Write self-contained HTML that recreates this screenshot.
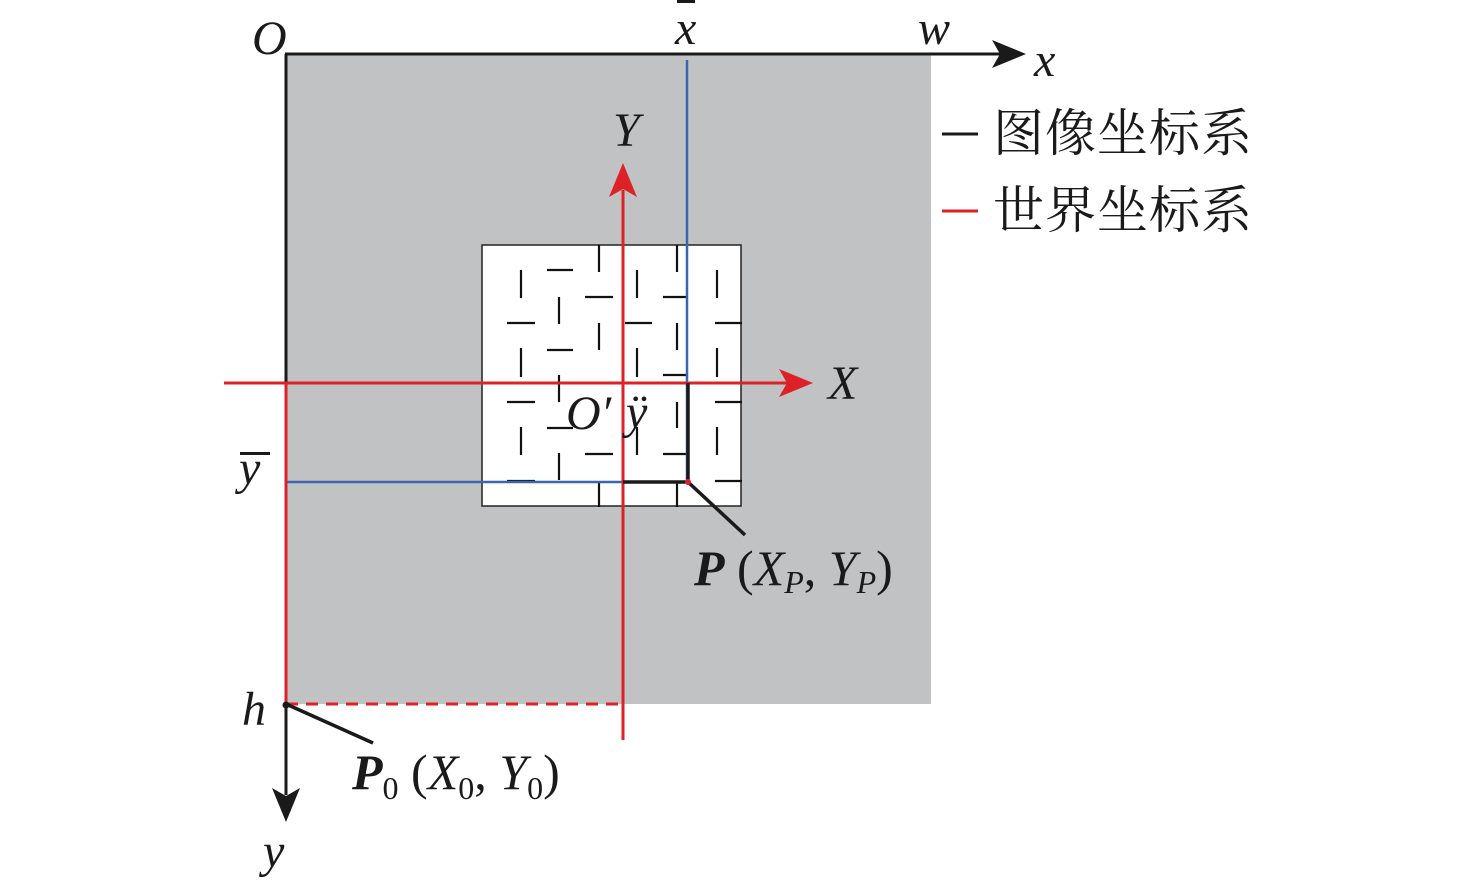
<!DOCTYPE html>
<html><head><meta charset="utf-8"><style>
html,body{margin:0;padding:0;background:#fff;}
svg{display:block;}
text{font-family:"Liberation Serif","Noto Serif CJK SC",serif;}
.i{font-style:italic;}
</style></head><body>
<svg width="1476" height="889" viewBox="0 0 1476 889" xmlns="http://www.w3.org/2000/svg">
<rect x="286" y="54" width="645" height="650" fill="#c1c2c4"/>
<rect x="482" y="245" width="259" height="261" fill="#fff" stroke="#222" stroke-width="1.5"/>
<g stroke="#111" stroke-width="2.2">
<line x1="521" y1="270" x2="521" y2="298"/><line x1="521" y1="348" x2="521" y2="377"/><line x1="521" y1="427" x2="521" y2="455"/>
<line x1="559" y1="297" x2="559" y2="324"/><line x1="559" y1="375" x2="559" y2="402"/><line x1="559" y1="453" x2="559" y2="480"/>
<line x1="599" y1="245" x2="599" y2="272"/><line x1="599" y1="323" x2="599" y2="350"/><line x1="599" y1="482" x2="599" y2="507"/>
<line x1="637" y1="270" x2="637" y2="298"/><line x1="637" y1="348" x2="637" y2="377"/><line x1="637" y1="427" x2="637" y2="455"/>
<line x1="677" y1="245" x2="677" y2="272"/><line x1="677" y1="323" x2="677" y2="350"/><line x1="677" y1="402" x2="677" y2="428"/><line x1="677" y1="482" x2="677" y2="507"/>
<line x1="717" y1="270" x2="717" y2="298"/><line x1="717" y1="348" x2="717" y2="377"/><line x1="717" y1="427" x2="717" y2="455"/>
<line x1="547" y1="270" x2="573" y2="270"/><line x1="585" y1="297" x2="613" y2="297"/><line x1="663" y1="297" x2="688" y2="297"/>
<line x1="507" y1="323" x2="535" y2="323"/><line x1="625" y1="323" x2="652" y2="323"/><line x1="715" y1="323" x2="742" y2="323"/>
<line x1="547" y1="350" x2="573" y2="350"/><line x1="663" y1="375" x2="688" y2="375"/>
<line x1="507" y1="402" x2="535" y2="402"/><line x1="715" y1="402" x2="742" y2="402"/>
<line x1="547" y1="428" x2="573" y2="428"/><line x1="585" y1="454" x2="613" y2="454"/><line x1="663" y1="454" x2="688" y2="454"/>
<line x1="507" y1="481" x2="535" y2="481"/><line x1="715" y1="481" x2="742" y2="481"/>
</g>
<g stroke="#1a1a1a" stroke-width="3" fill="none">
<line x1="285" y1="54" x2="1000" y2="54"/>
<line x1="286" y1="54" x2="286" y2="383"/>
<line x1="286" y1="704" x2="286" y2="795"/>
</g>
<polygon points="1026,54 992,40 1000,54 992,68" fill="#1a1a1a"/>
<polygon points="286,822 272,788 286,796 300,788" fill="#1a1a1a"/>
<g stroke="#3a66b0" stroke-width="2.5">
<line x1="687" y1="60" x2="687" y2="483"/>
<line x1="287" y1="482" x2="687" y2="482"/>
</g>
<g stroke="#dd2127" stroke-width="3" fill="none">
<line x1="286" y1="383" x2="286" y2="704"/>
<line x1="224" y1="383" x2="790" y2="383"/>
<line x1="623" y1="740" x2="623" y2="190"/>
<line x1="286" y1="704" x2="623" y2="704" stroke-dasharray="12,8"/>
</g>
<polygon points="813,383 779,369 787,383 779,397" fill="#dd2127"/>
<polygon points="623,163 609,197 623,189 637,197" fill="#dd2127"/>
<g stroke="#1a1a1a" stroke-width="3.5" fill="none">
<polyline points="688,383 688,482 623,482"/>
<line x1="688" y1="482" x2="745" y2="535"/>
<line x1="286" y1="704" x2="373" y2="743"/>
</g>
<circle cx="688" cy="482" r="3" fill="#dd2127"/>
<circle cx="286" cy="705" r="3.5" fill="#1a1a1a"/>
<line x1="942" y1="134" x2="978" y2="134" stroke="#1a1a1a" stroke-width="3"/>
<line x1="942" y1="211" x2="978" y2="211" stroke="#dd2127" stroke-width="3"/>
<text x="993" y="151" font-size="51" fill="#1a1a1a" letter-spacing="1">图像坐标系</text>
<text x="993" y="228" font-size="51" fill="#1a1a1a" letter-spacing="1">世界坐标系</text>
<g font-size="48" fill="#1a1a1a">
<text class="i" x="252" y="54">O</text>
<text class="i" x="675" y="44">x</text>
<rect x="677" y="0" width="18" height="3" fill="#1a1a1a"/>
<text class="i" x="918" y="44">w</text>
<text class="i" x="1034" y="76">x</text>
<text class="i" x="613" y="146">Y</text>
<text class="i" x="828" y="399">X</text>
<text class="i" x="566" y="429">O′</text>
<text class="i" x="626" y="428">ÿ</text>
<text class="i" x="239" y="484">y</text>
<rect x="240" y="452" width="30" height="3" fill="#1a1a1a"/>
<text class="i" x="242" y="725">h</text>
<text class="i" x="263" y="867">y</text>
<text x="694" y="585" font-size="50"><tspan font-weight="bold" font-style="italic">P</tspan> (<tspan class="i">X</tspan><tspan class="i" font-size="32" dy="8">P</tspan><tspan dy="-8">, </tspan><tspan class="i">Y</tspan><tspan class="i" font-size="32" dy="8">P</tspan><tspan dy="-8">)</tspan></text>
<text x="352" y="789" font-size="50"><tspan font-weight="bold" font-style="italic">P</tspan><tspan font-size="32" dy="10">0</tspan><tspan dy="-10"> (</tspan><tspan class="i">X</tspan><tspan font-size="32" dy="10">0</tspan><tspan dy="-10">, </tspan><tspan class="i">Y</tspan><tspan font-size="32" dy="10">0</tspan><tspan dy="-10">)</tspan></text>
</g>
</svg>
</body></html>
